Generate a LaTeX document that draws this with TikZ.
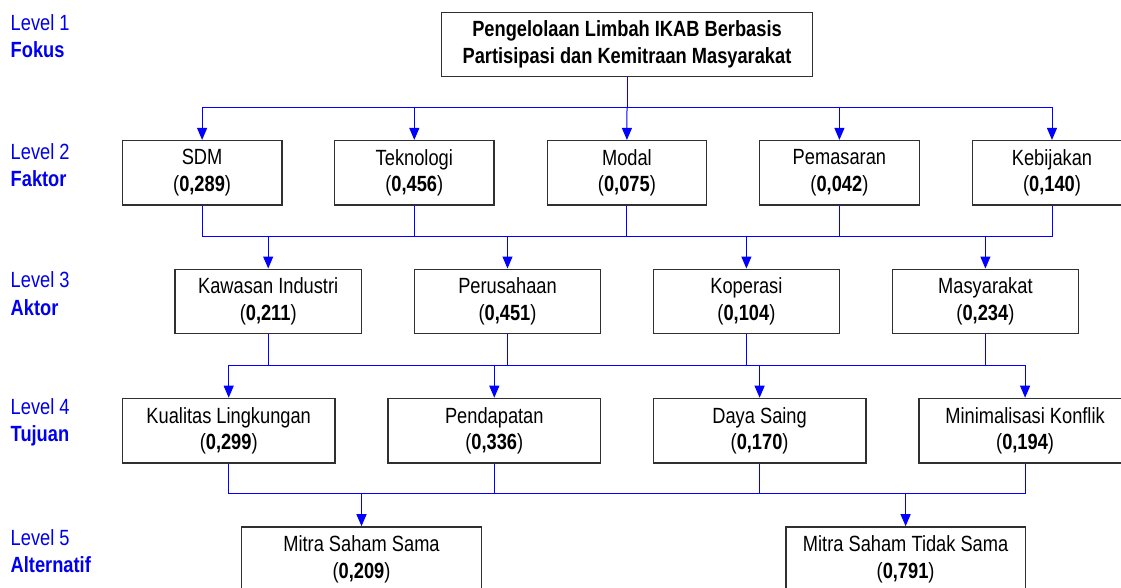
\documentclass[tikz,border=0pt]{standalone}
\usepackage{fontspec}
\setmainfont{Liberation Sans}[FakeStretch=0.83]
\usepackage{xcolor}
\usepackage{tikz}
\usetikzlibrary{arrows.meta}
\definecolor{LinkBlue}{HTML}{0000FF}
\definecolor{LevelBlue}{HTML}{0000F0}
\definecolor{BoxEdge}{HTML}{303030}
\tikzset{%
  box/.style={draw=BoxEdge, line width=1.3pt, fill=white, minimum height=64.5pt, inner sep=0pt, align=center, font=\fontsize{22}{26.5}\selectfont},%
  levellabel/.style={anchor=west, inner sep=0pt, align=left, text=LevelBlue, font=\fontsize{22}{27.5}\selectfont},%
  link/.style={draw=LinkBlue, line width=1pt},%
  arr/.style={link, -{Triangle[width=10pt,length=12pt]}},%
}

\begin{document}
\begin{tikzpicture}[x=1pt, y=-1pt]%
\useasboundingbox (0,0) rectangle (1121,588);%
\fill[white] (0,0) rectangle (1121,588);%
% level labels
\node[levellabel] (lv1) at (10.5, 36) {Level 1\\\textbf{Fokus}};%
\node[levellabel] (lv2) at (10.5, 165) {Level 2\\\textbf{Faktor}};%
\node[levellabel] (lv3) at (10.5, 293.5) {Level 3\\\textbf{Aktor}};%
\node[levellabel] (lv4) at (10.5, 422.5) {Level 4\\\textbf{Tujuan}};%
\node[levellabel] (lv5) at (10.5, 551) {Level 5\\\textbf{Alternatif}};%
% level 1
\node[box, minimum width=371.2pt, font=\bfseries\fontsize{22}{26.5}\selectfont] (fokus) at (627, 44.5) {Pengelolaan Limbah IKAB Berbasis\\Partisipasi dan Kemitraan Masyarakat};%
% level 2
\node[box, minimum width=159.5pt] (sdm) at (202.1, 172.8) {SDM\\(\textbf{0,289})};%
\node[box, minimum width=159.5pt] (teknologi) at (414.3, 172.8) {Teknologi\\(\textbf{0,456})};%
\node[box, minimum width=159.5pt] (modal) at (626.9, 172.8) {Modal\\(\textbf{0,075})};%
\node[box, minimum width=159.5pt] (pemasaran) at (839.4, 172.8) {Pemasaran\\(\textbf{0,042})};%
\node[box, minimum width=159.5pt] (kebijakan) at (1052, 172.8) {Kebijakan\\(\textbf{0,140})};%
% level 3
\node[box, minimum width=186.4pt] (kawasan) at (268.2, 301.4) {Kawasan Industri\\(\textbf{0,211})};%
\node[box, minimum width=186.4pt] (perusahaan) at (507.5, 301.4) {Perusahaan\\(\textbf{0,451})};%
\node[box, minimum width=186.4pt] (koperasi) at (746.4, 301.4) {Koperasi\\(\textbf{0,104})};%
\node[box, minimum width=186.4pt] (masyarakat) at (985.4, 301.4) {Masyarakat\\(\textbf{0,234})};%
% level 4
\node[box, minimum width=212.5pt] (kualitas) at (228.7, 430.6) {Kualitas Lingkungan\\(\textbf{0,299})};%
\node[box, minimum width=212.5pt] (pendapatan) at (494.3, 430.6) {Pendapatan\\(\textbf{0,336})};%
\node[box, minimum width=212.5pt] (dayasaing) at (759.6, 430.6) {Daya Saing\\(\textbf{0,170})};%
\node[box, minimum width=212.5pt] (konflik) at (1025.1, 430.6) {Minimalisasi Konflik\\(\textbf{0,194})};%
% level 5
\node[box, minimum width=239.5pt] (samasama) at (361.5, 559.1) {Mitra Saham Sama\\(\textbf{0,209})};%
\node[box, minimum width=239.5pt] (tidaksama) at (905.6, 559.1) {Mitra Saham Tidak Sama\\(\textbf{0,791})};%
% buses
\coordinate (bus1) at (0, 108);%
\coordinate (bus2) at (0, 236.7);%
\coordinate (bus3) at (0, 365.3);%
\coordinate (bus4) at (0, 493.7);%
% fokus -> faktor
\draw[link] (fokus.south) -- (fokus.south |- bus1);%
\draw[arr] (fokus.south |- bus1) -| (sdm.north);%
\draw[arr] (fokus.south |- bus1) -| (teknologi.north);%
\draw[arr] (fokus.south |- bus1) -- (modal.north);%
\draw[arr] (fokus.south |- bus1) -| (pemasaran.north);%
\draw[arr] (fokus.south |- bus1) -| (kebijakan.north);%
% faktor -> aktor
\draw[link] (sdm.south) |- (kebijakan.south |- bus2) -- (kebijakan.south);%
\draw[link] (teknologi.south) -- (teknologi.south |- bus2);%
\draw[link] (modal.south) -- (modal.south |- bus2);%
\draw[link] (pemasaran.south) -- (pemasaran.south |- bus2);%
\draw[arr] (kawasan.north |- bus2) -- (kawasan.north);%
\draw[arr] (perusahaan.north |- bus2) -- (perusahaan.north);%
\draw[arr] (koperasi.north |- bus2) -- (koperasi.north);%
\draw[arr] (masyarakat.north |- bus2) -- (masyarakat.north);%
% aktor -> tujuan
\draw[link] (kawasan.south) -- (kawasan.south |- bus3);%
\draw[link] (perusahaan.south) -- (perusahaan.south |- bus3);%
\draw[link] (koperasi.south) -- (koperasi.south |- bus3);%
\draw[link] (masyarakat.south) -- (masyarakat.south |- bus3);%
\draw[arr] (konflik.north |- bus3) -| (kualitas.north);%
\draw[arr] (kualitas.north |- bus3) -| (konflik.north);%
\draw[arr] (pendapatan.north |- bus3) -- (pendapatan.north);%
\draw[arr] (dayasaing.north |- bus3) -- (dayasaing.north);%
% tujuan -> alternatif
\draw[link] (kualitas.south) |- (konflik.south |- bus4) -- (konflik.south);%
\draw[link] (pendapatan.south) -- (pendapatan.south |- bus4);%
\draw[link] (dayasaing.south) -- (dayasaing.south |- bus4);%
\draw[arr] (samasama.north |- bus4) -- (samasama.north);%
\draw[arr] (tidaksama.north |- bus4) -- (tidaksama.north);%
\end{tikzpicture}
\end{document}
